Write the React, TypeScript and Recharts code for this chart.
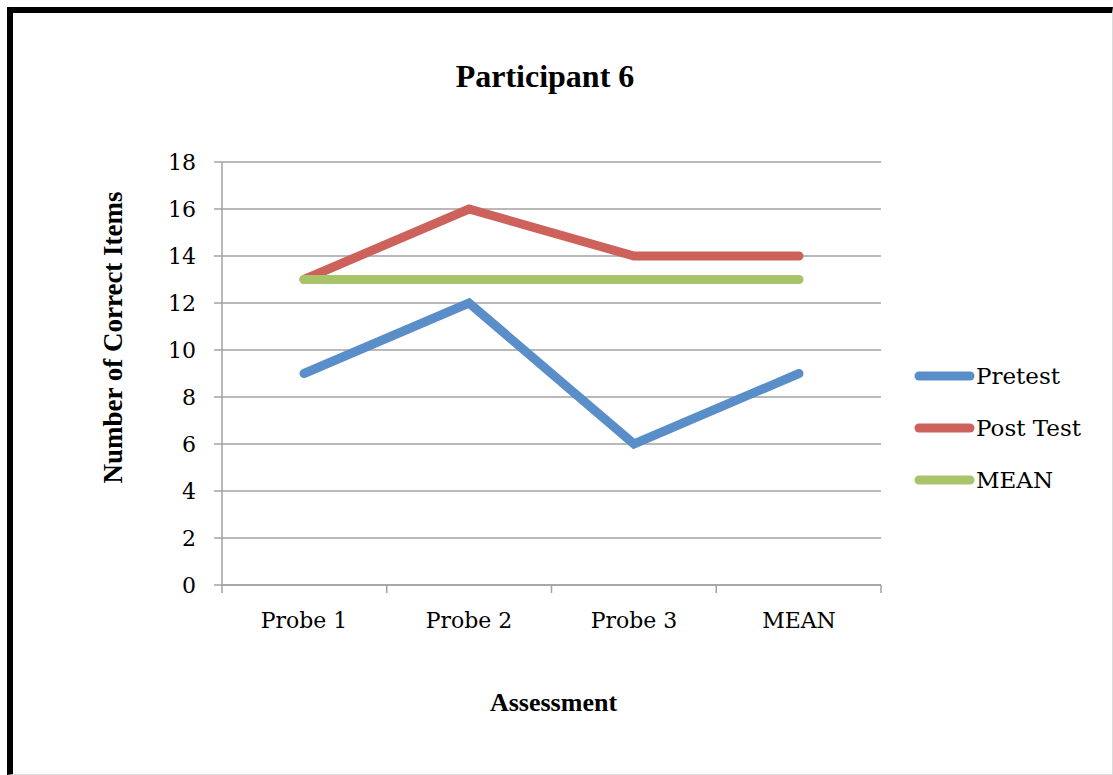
import { CartesianGrid, Legend, Line, LineChart, XAxis, YAxis } from "recharts";

const categories = ["Probe 1", "Probe 2", "Probe 3", "MEAN"];
const pretest = [9, 12, 6, 9];
const postTest = [13, 16, 14, 14];
const mean = [13, 13, 13, 13];
const yTicks = [0, 2, 4, 6, 8, 10, 12, 14, 16, 18];
// category boundaries, in category-index units
const edgeTicks = [-0.5, 0.5, 1.5, 2.5, 3.5];

const data = categories.map((name, i) => ({
  name,
  idx: i,
  pretest: pretest[i],
  postTest: postTest[i],
  mean: mean[i],
}));

const GRID = "#a2a2a2";
const TICK_FONT = "'DejaVu Serif', serif";
const TITLE_FONT = "'Liberation Serif', 'Times New Roman', serif";

const series = [
  { key: "pretest", name: "Pretest", color: "#5a8ec8" },
  { key: "postTest", name: "Post Test", color: "#cc625b" },
  { key: "mean", name: "MEAN", color: "#a7c46b" },
];

const seriesOrder = series.map((s) => s.name);

function LegendList({ payload }: any) {
  // keep the legend in series order rather than alphabetical
  const items = [...(payload || [])].sort(
    (a: any, b: any) => seriesOrder.indexOf(a.value) - seriesOrder.indexOf(b.value)
  );
  return (
    <div>
      {items.map((entry: any) => (
        <div
          key={entry.value}
          style={{ display: "flex", alignItems: "center", height: 52 }}
        >
          <svg width={62} height={12} style={{ display: "block" }}>
            <line
              x1={5}
              y1={6}
              x2={56}
              y2={6}
              stroke={entry.color}
              strokeWidth={9}
              strokeLinecap="round"
            />
          </svg>
          <span
            style={{
              fontFamily: TICK_FONT,
              fontSize: 23,
              color: "#000",
              lineHeight: 1,
            }}
          >
            {entry.value}
          </span>
        </div>
      ))}
    </div>
  );
}

export default function App() {
  return (
    <div
      style={{
        position: "absolute",
        left: 7,
        top: 7,
        width: 1106,
        height: 768,
        boxSizing: "border-box",
        borderTop: "6px solid #000",
        borderLeft: "6px solid #000",
        borderRight: "1px solid #dcdcdc",
        borderBottom: "1px solid #dcdcdc",
        background: "#fff",
      }}
    >
      <div
        style={{
          position: "absolute",
          left: 0,
          top: 47,
          width: 1064,
          textAlign: "center",
          fontFamily: TITLE_FONT,
          fontWeight: "bold",
          fontSize: 32,
          lineHeight: 1,
          color: "#000",
          zIndex: 1,
        }}
      >
        Participant 6
      </div>
      <LineChart
        width={1099}
        height={761}
        data={data}
        margin={{ top: 149, right: 231, bottom: 108, left: 109 }}
      >
        <CartesianGrid vertical={false} stroke={GRID} strokeWidth={1.5} />
        {/* boundary tick marks between the categories */}
        <XAxis
          xAxisId="axisA"
          type="number"
          dataKey="idx"
          domain={[-0.5, 3.5]}
          ticks={edgeTicks}
          tick={() => <g />}
          tickSize={8}
          height={1}
          axisLine={{ stroke: GRID, strokeWidth: 1.5 }}
          tickLine={{ stroke: GRID, strokeWidth: 1.5 }}
        />
        <XAxis
          xAxisId="axisB"
          dataKey="name"
          padding={{ left: 82, right: 82 }}
          axisLine={false}
          tickLine={false}
          tickSize={0}
          tickMargin={26}
          height={80}
          tick={{ fontFamily: TICK_FONT, fontSize: 22, fill: "#000" }}
          label={{
            content: ({ viewBox }: any) => (
              <text
                x={viewBox.x + viewBox.width / 2 + 2}
                y={viewBox.y + 125}
                textAnchor="middle"
                fontFamily={TITLE_FONT}
                fontWeight="bold"
                fontSize={26}
                fill="#000"
              >
                Assessment
              </text>
            ),
          }}
        />
        <YAxis
          domain={[0, 18]}
          ticks={yTicks}
          width={100}
          tickSize={8}
          tickMargin={18}
          axisLine={{ stroke: GRID, strokeWidth: 1.5 }}
          tickLine={{ stroke: GRID, strokeWidth: 1.5 }}
          tick={{ fontFamily: TICK_FONT, fontSize: 22, fill: "#000" }}
          label={{
            content: ({ viewBox }: any) => {
              const cx = viewBox.x - 9;
              const cy = viewBox.y + viewBox.height / 2 - 36;
              return (
                <text
                  x={cx}
                  y={cy}
                  transform={`rotate(-90, ${cx}, ${cy})`}
                  textAnchor="middle"
                  dominantBaseline="central"
                  fontFamily={TITLE_FONT}
                  fontWeight="bold"
                  fontSize={27}
                  fill="#000"
                >
                  Number of Correct Items
                </text>
              );
            },
          }}
        />
        <Legend
          layout="vertical"
          align="center"
          verticalAlign="middle"
          content={<LegendList />}
          wrapperStyle={{ left: 901, top: 337, width: 190 }}
        />
        {series.map((s) => (
          <Line
            key={s.key}
            xAxisId="axisB"
            dataKey={s.key}
            name={s.name}
            stroke={s.color}
            strokeWidth={9}
            strokeLinecap="round"
            dot={false}
            activeDot={false}
            isAnimationActive={false}
          />
        ))}
      </LineChart>
    </div>
  );
}
